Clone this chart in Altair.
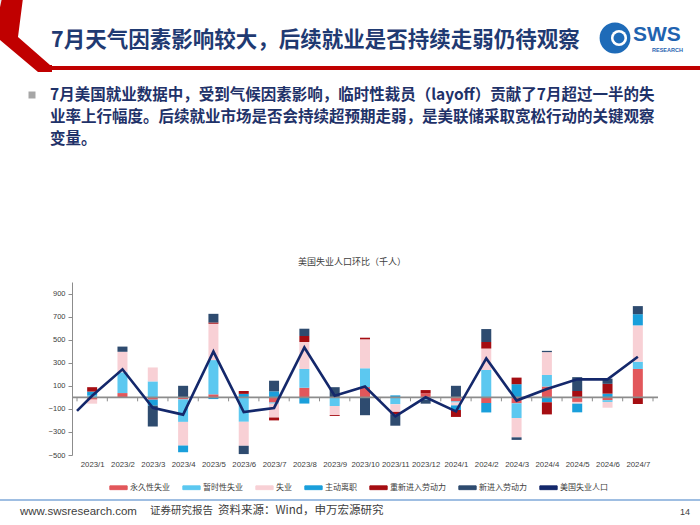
import json
import pandas as pd
import altair as alt

# ---------------- data ----------------
months = ["2023/1", "2023/2", "2023/3", "2023/4", "2023/5", "2023/6", "2023/7",
          "2023/8", "2023/9", "2023/10", "2023/11", "2023/12", "2024/1", "2024/2",
          "2024/3", "2024/4", "2024/5", "2024/6", "2024/7"]

series_names = ["永久性失业", "暂时性失业", "失业", "主动离职", "重新进入劳动力", "新进入劳动力"]
line_name = "美国失业人口"

permanent = [-20, 37, -20, -18, 26, 0, -45, 83, 0, 89, -5, 35, -35, -49, -52, 94, -40, -25, 246]
temporary = [15, 180, 138, -195, 297, -212, -10, 163, -75, 163, -55, -20, -10, 237, -127, 100, 0, -15, 63]
job_losers = [-35, 178, 121, -205, 315, -208, -120, 234, -78, 251, -66, 0, -25, 186, -168, 198, -15, -50, 315]
job_leavers = [35, 0, -52, -58, -15, 30, 52, -54, 0, 0, 17, 0, -40, -82, 114, -43, -75, 32, 97]
reentrants = [38, -6, 0, 0, 11, 25, -25, 52, -8, 14, -20, 28, -60, 57, 57, -105, 55, 85, -58]
new_entrants = [0, 45, -181, 100, 75, -72, 92, 63, 88, -155, -100, -35, 100, 112, -22, 11, 120, 45, 70]

# the line begins at the left edge of the category axis
line_pos = [-0.5] + list(range(len(months)))
line_values = [-117, 14, 243, -90, -150, 397, -127, -92, 432, 14, 94, -165, 0, -122, 337, -28, 73, 156, 156, 352]

series_colors = ["#E2575B", "#5CC8F0", "#F8D0D5", "#1A9FDB", "#A50D12", "#2E4B6F"]
line_color = "#14286B"

y_ticks = [-500, -300, -100, 100, 300, 500, 700, 900]

# ---------------- tables ----------------
all_series = [permanent, temporary, job_losers, job_leavers, reentrants, new_entrants]
rows = []
for k, (name, vals) in enumerate(zip(series_names, all_series)):
    for i, v in enumerate(vals):
        rows.append({"pos": i, "value": v, "series": name, "k": k})
bar_df = pd.DataFrame(rows)
line_df = pd.DataFrame({"pos": line_pos, "value": line_values, "series": line_name})
boundary_df = pd.DataFrame({"pos": [i - 0.5 for i in range(len(months) + 1)]})

# ---------------- layout ----------------
PL, PT, W, H = 72, 282, 586, 173
PR, PB = 700 - PL - W, 525 - PT - H
zero_px = H * 1000 / 1500

CJK = "Noto Sans CJK SC"
LAT = "Liberation Sans"

domain_names = series_names + [line_name]
domain_colors = series_colors + [line_color]

legend = alt.Legend(
    orient="none", legendX=37, legendY=196, direction="horizontal", title=None,
    symbolType="M-1,-0.22H1V0.22H-1Z", symbolSize=300, symbolStrokeWidth=1,
    symbolOpacity=1,
    labelFont=CJK, labelFontSize=8, labelColor="#404040", labelOffset=2,
    columnPadding=10, padding=0,
)
color_scale = alt.Scale(domain=domain_names, range=domain_colors)
x_scale = alt.Scale(domain=[-0.5, len(months) - 0.5], nice=False, zero=False)
y_scale = alt.Scale(domain=[-500, 1000], nice=False)

x_axis = alt.Axis(values=list(range(len(months))), labelExpr=f"{json.dumps(months)}[datum.value]",
                  ticks=False, domain=False, grid=False, title=None, labelOverlap=False,
                  labelFlush=False, labelFont=LAT, labelFontSize=7.8, labelColor="#404040",
                  labelPadding=5, labelBound=False)
y_axis = alt.Axis(values=y_ticks, grid=False, title=None, tickSize=4, tickColor="#8C8C8C",
                  domainColor="#8C8C8C", labelFont=LAT, labelFontSize=7.5,
                  labelColor="#404040", labelPadding=3, labelOverlap=False, labelFlush=False,
                  labelBound=False)

X = alt.X("pos:Q", scale=x_scale, axis=x_axis)

bars = alt.Chart(bar_df).mark_bar(size=10).encode(
    x=X,
    y=alt.Y("value:Q", stack="zero", scale=y_scale, axis=y_axis),
    color=alt.Color("series:N", scale=color_scale, legend=legend),
    order=alt.Order("k:Q", sort="ascending"),
)

zero_rule = alt.Chart(alt.Data(values=[{"a": 1}])).mark_rule(
    color="#8C8C8C", strokeWidth=1.6).encode(y=alt.Y(datum=0, scale=y_scale, axis=y_axis))

ticks = alt.Chart(boundary_df).mark_rule(color="#8C8C8C", strokeWidth=1).encode(
    x=X, y=alt.Y(datum=0, scale=y_scale, axis=y_axis), y2=alt.value(zero_px + 4))

line = alt.Chart(line_df).mark_line(strokeWidth=2.6).encode(
    x=X,
    y=alt.Y("value:Q", scale=y_scale, axis=y_axis),
    color=alt.Color("series:N", scale=color_scale, legend=legend),
)


# ---------------- slide decorations ----------------
def txt(t, x, y, size, color, font=CJK, weight="normal", align="left"):
    return alt.Chart(alt.Data(values=[{"t": t}])).mark_text(
        align=align, baseline="middle", fontSize=size, font=font, fontWeight=weight,
        color=color).encode(x=alt.value(x - PL), y=alt.value(y - PT), text="t:N")


def seg(x1, y1, x2, y2, color, width, cap="butt"):
    return alt.Chart(alt.Data(values=[{"a": 1}])).mark_rule(
        color=color, strokeWidth=width, strokeCap=cap).encode(
        x=alt.value(x1 - PL), y=alt.value(y1 - PT), x2=alt.value(x2 - PL), y2=alt.value(y2 - PT))


def dot(x, y, size, color, shape="circle"):
    return alt.Chart(alt.Data(values=[{"a": 1}])).mark_point(
        shape=shape, size=size, filled=True, color=color, opacity=1, strokeWidth=0).encode(
        x=alt.value(x - PL), y=alt.value(y - PT))


# chevron polygon (pixel points) turned into a symbol path around a centre
cx, cy, r = 25, 35, 50
chev_pts = [(2, -2), (-6, 35), (38, 72), (52, 72), (52, 65), (50, 65), (18, 37), (23, -2)]
chev_path = "M" + "L".join(f"{(px - cx) / r:.3f},{(py - cy) / r:.3f}" for px, py in chev_pts) + "Z"
# light grey corner shading left of the chevron
corner_pts = [(0, 0), (3, 0), (0, 18)]
corner_path = "M" + "L".join(f"{(px - cx) / r:.3f},{(py - cy) / r:.3f}" for px, py in corner_pts) + "Z"

red = "#C00000"
navy = "#1F3269"
deco = [
    dot(cx, cy, (2 * r) ** 2, "#E6E6E6", corner_path),
    dot(cx, cy, (2 * r) ** 2, red, chev_path),
    seg(50, 68, 700, 68, red, 4),
    txt("7月天气因素影响较大，后续就业是否持续走弱仍待观察", 51, 41, 21.5, "#1F3A72", weight="bold"),
    dot(615, 38, 950, "#1E6BB8"),
    dot(619, 38, 260, "#FFFFFF"),
    dot(619, 38, 120, "#1E6BB8"),
    txt("SWS", 633, 35, 21, "#1F63B0", font=LAT, weight="bold"),
    txt("RESEARCH", 652, 50, 5.5, "#1F63B0", font=LAT, weight="bold"),
    dot(32, 95, 49, "#A6A6A6", "square"),
    txt("7月美国就业数据中，受到气候因素影响，临时性裁员（layoff）贡献了7月超过一半的失", 50, 95, 15.5, navy, weight="bold"),
    txt("业率上行幅度。后续就业市场是否会持续超预期走弱，是美联储采取宽松行动的关键观察", 50, 117, 15.5, navy, weight="bold"),
    txt("变量。", 50, 139, 15.5, navy, weight="bold"),
    txt("美国失业人口环比（千人）", 352, 262, 9, "#404040", align="center"),
    seg(0, 500, 700, 500, "#7FA8D8", 1.5),
    txt("www.swsresearch.com", 20, 512, 11.5, "#404040", font=LAT),
    txt("证券研究报告", 150, 511, 10.5, "#404040"),
    txt("资料来源：Wind，申万宏源研究", 218, 511, 11.5, "#404040"),
    txt("14", 680, 512, 9, "#404040", font=LAT),
]

chart = alt.layer(bars, zero_rule, ticks, line, *deco).properties(
    width=W, height=H,
    padding={"left": PL, "top": PT, "right": PR, "bottom": PB},
    autosize=alt.AutoSizeParams(type="none"),
    background="white",
).configure_view(stroke=None)

chart.save("out.html", embed_options={"renderer": "svg", "actions": False})
